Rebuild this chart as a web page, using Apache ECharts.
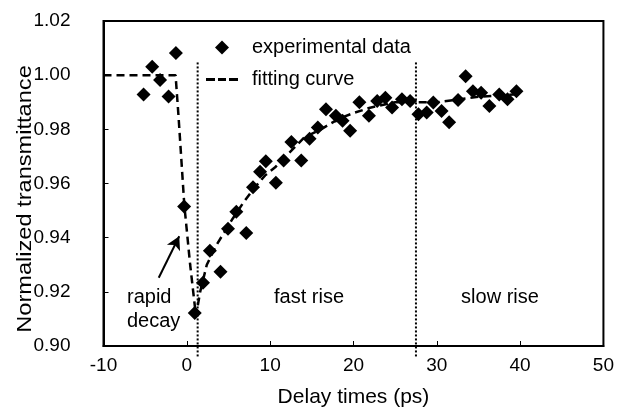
<!DOCTYPE html>
<html>
<head>
<meta charset="utf-8">
<script src="https://cdn.jsdelivr.net/npm/echarts@6/dist/echarts.min.js"></script>
<style>html,body{margin:0;padding:0;background:#fff;}#c{width:617px;height:413px;}</style>
</head>
<body>
<div id="c"></div>
<script>
// Data
const expX = [-5.19,-4.16,-3.21,-2.19,-1.31,-0.32,0.95,1.94,2.77,4.04,4.94,5.94,7.13,7.94,8.79,9.48,10.69,11.62,12.55,13.73,14.73,15.72,16.70,17.89,18.69,19.60,20.71,21.86,22.85,23.83,24.63,25.82,26.80,27.80,28.79,29.58,30.57,31.48,32.55,33.46,34.34,35.32,36.31,37.50,38.49,39.56];
const expY = [0.9929,1.0031,0.9982,0.9921,1.0082,0.9515,0.9122,0.9234,0.9352,0.9274,0.9433,0.9496,0.9417,0.9586,0.9643,0.9682,0.9603,0.9685,0.9753,0.9685,0.9765,0.9807,0.9874,0.9850,0.9832,0.9795,0.9900,0.9850,0.9905,0.9917,0.9881,0.9911,0.9905,0.9856,0.9862,0.9899,0.9868,0.9826,0.9908,0.9996,0.9941,0.9935,0.9886,0.9929,0.9911,0.9941];
const fitX = [-10,-1.35,-1.0,-0.3,0.4,1.1,1.6,2.4,3.5,4.5,5.5,6.8,8.0,9.4,10.6,12.2,14.1,16.1,18.3,20,22,25,30,35,40];
const fitY = [1.0,1.0,0.985,0.952,0.930,0.911,0.920,0.930,0.937,0.942,0.947,0.953,0.958,0.963,0.966,0.971,0.977,0.980,0.984,0.986,0.988,0.990,0.990,0.992,0.993];
const dividerX = [1.3, 27.5];
const dividerY = [1.0047, 0.8955];
const arrowFrom = [-3.37, 0.9252];
const arrowTo = [-0.91, 0.9405];
const xTicks = {min:-10, max:50, interval:10};
const yTicks = {min:0.90, max:1.02, interval:0.02};

const FONT = "'Liberation Sans', Arial, sans-serif";
const chart = echarts.init(document.getElementById('c'), null, {renderer:'canvas'});

const dividerSeries = dividerX.map(x => ({
  type:'line', silent:true, clip:false, symbol:'none', animation:false,
  data: dividerY.map(y => [x, y]),
  lineStyle:{color:'#000', width:2, type:[2,2]}, z:1
}));

chart.setOption({
  animation:false,
  backgroundColor:'#fff',
  grid:{left:103.5, right:8.5, top:21, bottom:64, show:true, borderColor:'#000', borderWidth:2, containLabel:false},
  legend:{
    orient:'vertical', left:206, top:37, padding:0, itemWidth:32, itemHeight:14, itemGap:11,
    symbolKeepAspect:true,
    textStyle:{fontFamily:FONT, fontSize:20, color:'#000', padding:[0,0,0,9], lineHeight:21},
    data:[
      {name:'experimental data', icon:'path://M0,-1L1,0L0,1L-1,0Z'},
      {name:'fitting curve', icon:'path://M0,0h9v3h-9z M12,0h8v3h-8z M23,0h9v3h-9z'}
    ]
  },
  xAxis:{
    type:'value', min:xTicks.min, max:xTicks.max, interval:xTicks.interval,
    name:'Delay times (ps)', nameLocation:'middle', nameGap:41,
    nameTextStyle:{fontFamily:FONT, fontSize:21, color:'#000'},
    axisLine:{show:true, onZero:false, lineStyle:{color:'#000', width:2}},
    axisTick:{show:true, inside:true, length:5, lineStyle:{color:'#000', width:1}},
    axisLabel:{fontFamily:FONT, fontSize:19, color:'#000', margin:10},
    splitLine:{show:false}
  },
  yAxis:{
    type:'value', min:yTicks.min, max:yTicks.max, interval:yTicks.interval,
    axisLine:{show:true, onZero:false, lineStyle:{color:'#000', width:2}},
    axisTick:{show:true, inside:true, length:5, lineStyle:{color:'#000', width:1}},
    axisLabel:{fontFamily:FONT, fontSize:19, color:'#000', margin:33, formatter:v=>v.toFixed(2)},
    splitLine:{show:false}
  },
  graphic:[
    {type:'text', x:25, y:199, rotation:Math.PI/2, scaleX:1.18, style:{text:'Normalized transmittance', font:"20px "+FONT, fill:'#000', align:'center', verticalAlign:'middle'}},
    {type:'text', x:127, y:297, style:{text:'rapid', font:"20px "+FONT, fill:'#000', align:'left', verticalAlign:'middle'}},
    {type:'text', x:127, y:321, style:{text:'decay', font:"20px "+FONT, fill:'#000', align:'left', verticalAlign:'middle'}},
    {type:'text', x:309, y:297, style:{text:'fast rise', font:"20px "+FONT, fill:'#000', align:'center', verticalAlign:'middle'}},
    {type:'text', x:500, y:297, style:{text:'slow rise', font:"20px "+FONT, fill:'#000', align:'center', verticalAlign:'middle'}}
  ],
  series:[
    ...dividerSeries,
    {
      name:'fitting curve', type:'line', symbol:'none', smooth:false, z:2,
      data: fitX.map((x,i)=>[x, fitY[i]]),
      lineStyle:{color:'#000', width:2.5, type:[8,5]},
      itemStyle:{color:'#000'},
      markLine:{
        silent:true, symbol:['none','arrow'], symbolSize:[11,13],
        label:{show:false},
        lineStyle:{color:'#000', width:2, type:'solid'},
        data:[[{coord:arrowFrom},{coord:arrowTo}]]
      }
    },
    {
      name:'experimental data', type:'scatter', symbol:'diamond', symbolSize:14, z:3,
      data: expX.map((x,i)=>[x, expY[i]]),
      itemStyle:{color:'#000', opacity:1}
    }
  ]
});
</script>
</body>
</html>
